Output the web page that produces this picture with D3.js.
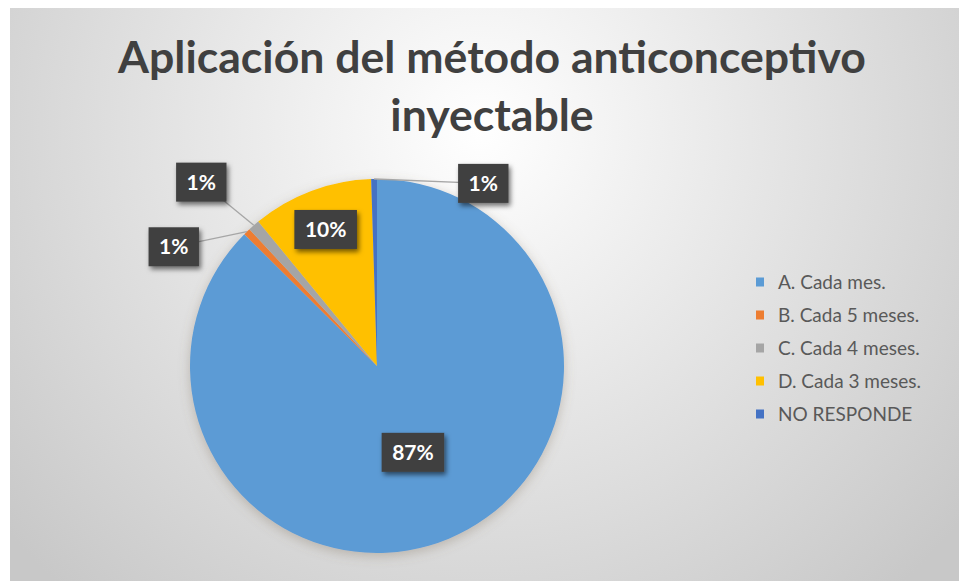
<!DOCTYPE html>
<html>
<head>
<meta charset="utf-8">
<script src="https://cdn.jsdelivr.net/npm/d3@7"></script>
<style>
  body { margin: 0; background: #fff; }
  text { font-family: Lato, "Open Sans", sans-serif; }
</style>
</head>
<body>
<div id="chart-area"></div>
<script>
(() => {

  // data
  const categories = ['A. Cada mes.', 'B. Cada 5 meses.', 'C. Cada 4 meses.', 'D. Cada 3 meses.', 'NO RESPONDE'];
  const values = [87.45, 0.6, 1.0, 10.45, 0.5];
  const colors = ['#5b9bd5', '#ed7d31', '#a5a5a5', '#ffc000', '#4472c4'];
  const titleLines = ['Aplicación del método anticonceptivo', 'inyectable'];

  // where excel put the labels: angle in degrees (null = slice middle), radius as share of pie radius
  const labelLayout = [
    { angle: null, r: 0.5 },
    { angle: 300.4, r: 1.26 },
    { angle: 316.3, r: 1.36 },
    { angle: null, r: 0.78 },
    { angle: 30.2, r: 1.13 }
  ];

  const W = 959, H = 581;
  const cx = 377, cy = 366, radius = 187;

  const svg = d3.select('#chart-area').append('svg')
    .attr('width', W)
    .attr('height', H);

  const defs = svg.append('defs');
  const grad = defs.append('radialGradient')
    .attr('id', 'bg')
    .attr('gradientUnits', 'userSpaceOnUse')
    .attr('cx', 480).attr('cy', 130).attr('r', 620);
  grad.append('stop').attr('offset', '0%').attr('stop-color', '#ffffff');
  grad.append('stop').attr('offset', '100%').attr('stop-color', '#c8c8c8');

  const shadow = defs.append('filter').attr('id', 'shadow')
    .attr('x', '-30%').attr('y', '-30%').attr('width', '160%').attr('height', '160%');
  shadow.append('feDropShadow')
    .attr('dx', 2).attr('dy', 3).attr('stdDeviation', 2.5)
    .attr('flood-color', '#000').attr('flood-opacity', 0.55);

  const glow = defs.append('filter').attr('id', 'glow')
    .attr('x', '-20%').attr('y', '-20%').attr('width', '140%').attr('height', '140%');
  glow.append('feDropShadow')
    .attr('dx', 0).attr('dy', 3).attr('stdDeviation', 6)
    .attr('flood-color', '#7a6a55').attr('flood-opacity', 0.35);

  svg.append('rect')
    .attr('x', 10).attr('y', 8)
    .attr('width', W - 10).attr('height', H - 8)
    .attr('fill', 'url(#bg)');

  // title, fitted to the width it has in the picture
  const title = svg.append('g');
  const t1 = title.append('text')
    .attr('x', 492).attr('y', 73)
    .attr('text-anchor', 'middle')
    .attr('font-weight', 700)
    .attr('fill', '#404040')
    .attr('font-size', 44)
    .text(titleLines[0]);
  const fit = 44 * 748 / t1.node().getComputedTextLength();
  t1.attr('font-size', fit);
  title.append('text')
    .attr('x', 492).attr('y', 131)
    .attr('text-anchor', 'middle')
    .attr('font-weight', 700)
    .attr('fill', '#404040')
    .attr('font-size', fit)
    .text(titleLines[1]);

  // pie
  const pie = d3.pie().sort(null).value(d => d);
  const arcs = pie(values);
  const arc = d3.arc().innerRadius(0).outerRadius(radius);

  const g = svg.append('g')
    .attr('transform', `translate(${cx}, ${cy})`);

  g.append('g')
    .attr('filter', 'url(#glow)')
    .selectAll('path')
    .data(arcs)
    .enter().append('path')
      .attr('d', arc)
      .attr('fill', (d, i) => colors[i]);

  const labelPos = (d, i) => {
    const L = labelLayout[i];
    const a = L.angle === null ? (d.startAngle + d.endAngle) / 2 : L.angle * Math.PI / 180;
    const r = radius * L.r;
    return [r * Math.sin(a), -r * Math.cos(a)];
  };
  const edgePos = d => {
    const a = (d.startAngle + d.endAngle) / 2;
    return [radius * Math.sin(a), -radius * Math.cos(a)];
  };

  // leader lines for labels that sit outside the pie
  g.selectAll('line.leader')
    .data(arcs.filter((d, i) => labelLayout[i].r > 1))
    .enter().append('line')
      .attr('class', 'leader')
      .attr('x1', d => labelPos(d, d.index)[0])
      .attr('y1', d => labelPos(d, d.index)[1])
      .attr('x2', d => edgePos(d)[0])
      .attr('y2', d => edgePos(d)[1])
      .attr('stroke', '#a6a6a6')
      .attr('stroke-width', 1.3);

  const labels = g.selectAll('g.label')
    .data(arcs)
    .enter().append('g')
      .attr('class', 'label')
      .attr('transform', (d, i) => `translate(${labelPos(d, i)})`);

  labels.append('text')
    .attr('text-anchor', 'middle')
    .attr('dy', '0.36em')
    .attr('font-size', 21)
    .attr('font-weight', 700)
    .attr('fill', '#fff')
    .text(d => Math.round(d.value) + '%');

  labels.each(function() {
    const sel = d3.select(this);
    const w = sel.select('text').node().getComputedTextLength() + 21;
    sel.insert('rect', 'text')
      .attr('x', -w / 2).attr('y', -19.5)
      .attr('width', w).attr('height', 39)
      .attr('fill', '#404040')
      .attr('filter', 'url(#shadow)');
  });

  // legend
  const legend = svg.append('g')
    .attr('transform', 'translate(756, 282)');

  const items = legend.selectAll('g')
    .data(categories)
    .enter().append('g')
      .attr('transform', (d, i) => `translate(0, ${i * 33})`);

  items.append('rect')
    .attr('x', 0).attr('y', -4.5)
    .attr('width', 8).attr('height', 9)
    .attr('fill', (d, i) => colors[i]);

  items.append('text')
    .attr('x', 22)
    .attr('dy', '0.35em')
    .attr('font-size', 19)
    .attr('fill', '#595959')
    .text(d => d);

})();
</script>
</body>
</html>
